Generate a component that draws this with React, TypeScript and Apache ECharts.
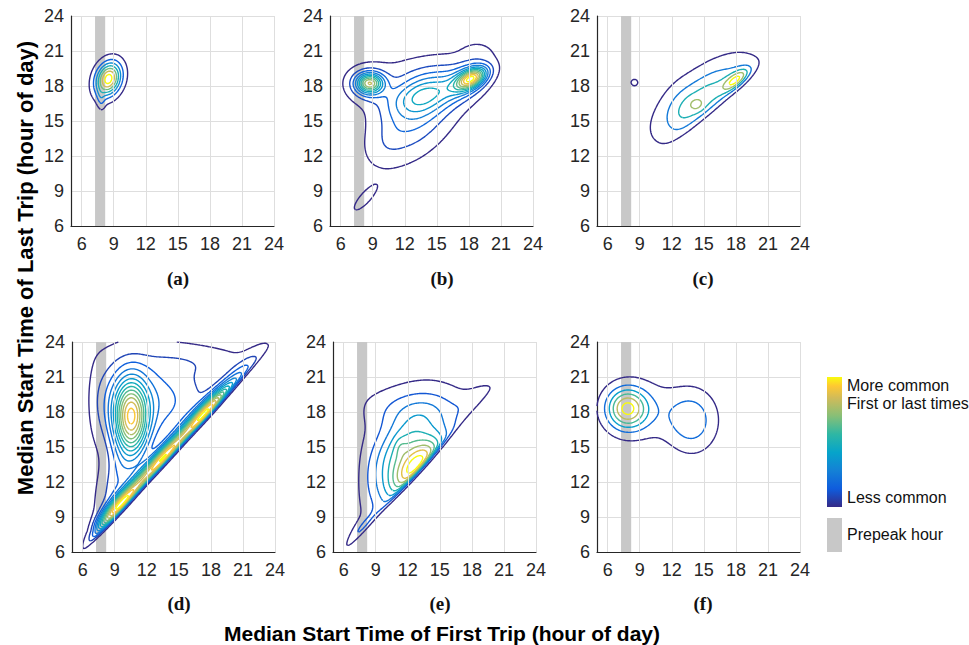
import React, { useEffect, useRef } from "react";
import * as echarts from "echarts";

// ---------- data ----------
const X_TICKS = [6, 9, 12, 15, 18, 21, 24];
const Y_TICKS = [6, 9, 12, 15, 18, 21, 24];
const PANEL_LABELS = ["(a)", "(b)", "(c)", "(d)", "(e)", "(f)"];
const PREPEAK_HOUR = [7.25, 8.2];

// density components of each panel: [centerX, centerY, sdAlong, sdAcross, angleDeg, weight]
const COMP_A = [
  [8.5, 18.6, 1.0, 0.75, 65, 1.0],
  [7.8, 16.8, 0.6, 0.25, 95, 0.15],
];
const COMP_B = [
  [8.7, 18.25, 0.8, 0.55, 0, 0.6],
  [8.7, 18.1, 1.2, 0.9, 0, 0.3],
  [18.3, 18.65, 1.0, 0.5, 25, 0.75],
  [17.8, 18.5, 1.4, 0.85, 30, 0.33],
  [13.8, 17.3, 2.4, 1.1, 15, 0.4],
  [13.0, 15.3, 3.0, 1.7, 40, 0.25],
  [13.0, 19.3, 3.5, 1.0, 5, 0.06],
  [18.8, 21.0, 1.2, 0.7, 0, 0.05],
  [10.5, 13.3, 1.3, 0.9, 60, 0.03],
  [8.3, 8.4, 1.1, 0.35, 45, 0.1],
];
const COMP_C = [
  [15.2, 17.1, 3.0, 1.3, 34, 0.52],
  [14.5, 16.3, 3.5, 1.8, 36, 0.1],
  [12.8, 15.8, 1.5, 1.0, 80, 0.12],
  [18.1, 18.5, 1.0, 0.45, 35, 0.8],
  [14.3, 16.4, 0.5, 0.4, 0, 0.2],
  [8.5, 18.3, 0.4, 0.35, 0, 0.14],
];
const COMP_D = [
  [9.5, 10.0, 2.2, 0.5, 45, 0.9],
  [13.5, 14.0, 2.2, 0.5, 45, 0.9],
  [17.5, 17.9, 2.2, 0.5, 45, 0.9],
  [20.5, 20.9, 2.2, 0.6, 45, 0.15],
  [10.5, 17.5, 2.2, 1.1, 90, 0.75],
  [12.0, 19.0, 4.0, 2.5, 0, 0.22],
  [16.5, 22.3, 4.0, 0.9, 0, 0.05],
  [9.5, 12.0, 3.0, 1.2, 70, 0.15],
];
const COMP_E = [
  [13.0, 13.5, 2.0, 0.8, 45, 0.5],
  [12.0, 14.0, 3.0, 2.0, 60, 0.7],
  [11.3, 15.0, 0.6, 0.4, 90, 0.08],
  [13.0, 18.3, 3.5, 1.2, 0, 0.15],
  [18.5, 19.3, 1.5, 0.6, 30, 0.08],
  [7.6, 7.8, 1.5, 0.5, 45, 0.2],
];
const COMP_F = [
  [7.8, 18.3, 1.25, 1.15, 0, 1.0],
  [8.5, 18.3, 2.0, 1.8, 0, 0.15],
  [13.9, 17.2, 1.7, 1.5, 90, 0.42],
  [11.0, 18.0, 2.5, 1.6, 0, 0.14],
];
// density falls off below a rising line (last trip before first trip): [slope, offset, softness]
const DIAG_CUT = [null, null, [0.8, 3.4, 0.3], [1, 0.0, 0.12], [1, 0.0, 0.15], null];
// density falls off before early morning: [hour, softness, hour at y=6, rise per hour of y]
const LEFT_CUT = [null, null, null, [6.8, 0.35, 5.9, 0.5], [7.3, 0.3, 5.9, 0.45], null];
// contour levels as share of each panel's peak: [lowest, highest, count]
const LEVELS = [
  [0.08, 0.92, 7],
  [0.04, 0.95, 12],
  [0.1, 0.9, 5],
  [0.03, 0.95, 14],
  [0.05, 0.92, 9],
  [0.1, 0.92, 6],
];

// ---------- helpers ----------
const PANELS = [COMP_A, COMP_B, COMP_C, COMP_D, COMP_E, COMP_F];
const X_MIN = 5, X_MAX = 24, Y_MIN = 6, Y_MAX = 24, STEP = 0.1;

const PARULA: [number, string][] = [
  [0, "#352a87"], [0.14, "#0f5cdd"], [0.28, "#1481d6"], [0.42, "#06a4ca"],
  [0.56, "#2eb7a4"], [0.7, "#87bf77"], [0.84, "#d1bb59"], [0.93, "#fec832"], [1, "#f9fb0e"],
];
function hex(c: string) { return [1, 3, 5].map((i) => parseInt(c.slice(i, i + 2), 16)); }
function parula(t: number) {
  for (let k = 1; k < PARULA.length; k++) {
    if (t <= PARULA[k][0]) {
      const [t0, c0] = PARULA[k - 1]; const [t1, c1] = PARULA[k];
      const f = (t - t0) / (t1 - t0); const a = hex(c0), b = hex(c1);
      const m = a.map((v, i) => Math.round(v + (b[i] - v) * f));
      return `rgb(${m[0]},${m[1]},${m[2]})`;
    }
  }
  return PARULA[PARULA.length - 1][1];
}

function density(comps: number[][], diag: number[] | null, left: number[] | null, x: number, y: number) {
  let s = 0;
  for (const [cx, cy, sa, sc, ang, w] of comps) {
    const th = (ang * Math.PI) / 180, dx = x - cx, dy = y - cy;
    const u = dx * Math.cos(th) + dy * Math.sin(th);
    const v = -dx * Math.sin(th) + dy * Math.cos(th);
    s += w * Math.exp(-0.5 * ((u * u) / (sa * sa) + (v * v) / (sc * sc)));
  }
  if (diag) s *= 1 / (1 + Math.exp(-(y - diag[0] * x - diag[1]) / diag[2]));
  if (left) {
    const xb = Math.min(left[0], left[2] + left[3] * (y - 6));
    s *= 1 / (1 + Math.exp(-(x - xb) / left[1]));
  }
  return s;
}

function contourLines(vals: Float64Array, nx: number, ny: number, L: number) {
  const pts = new Map<number, number[]>();
  const segs: number[][] = [];
  const adj = new Map<number, number[]>();
  const ep = (key: number, xa: number, ya: number, va: number, xb: number, yb: number, vb: number) => {
    if (!pts.has(key)) {
      const t = (L - va) / (vb - va);
      pts.set(key, [xa + t * (xb - xa), ya + t * (yb - ya)]);
    }
    return key;
  };
  const add = (p: number, q: number) => {
    const id = segs.length; segs.push([p, q]);
    for (const k of [p, q]) { const l = adj.get(k); if (l) l.push(id); else adj.set(k, [id]); }
  };
  for (let j = 0; j < ny - 1; j++) {
    for (let i = 0; i < nx - 1; i++) {
      const a = vals[j * nx + i], b = vals[j * nx + i + 1], c = vals[(j + 1) * nx + i + 1], d = vals[(j + 1) * nx + i];
      const sa = a >= L, sb = b >= L, sc = c >= L, sd = d >= L;
      if (sa === sb && sb === sc && sc === sd) continue;
      const x0 = X_MIN + i * STEP, x1 = x0 + STEP, y0 = Y_MIN + j * STEP, y1 = y0 + STEP;
      const e: (number | null)[] = [null, null, null, null];
      if (sa !== sb) e[0] = ep(2 * (j * nx + i), x0, y0, a, x1, y0, b);
      if (sb !== sc) e[1] = ep(2 * (j * nx + i + 1) + 1, x1, y0, b, x1, y1, c);
      if (sd !== sc) e[2] = ep(2 * ((j + 1) * nx + i), x0, y1, d, x1, y1, c);
      if (sa !== sd) e[3] = ep(2 * (j * nx + i) + 1, x0, y0, a, x0, y1, d);
      const list = e.filter((v) => v !== null) as number[];
      if (list.length === 2) add(list[0], list[1]);
      else if (list.length === 4) {
        const center = (a + b + c + d) / 4 >= L;
        if (center === sa) { add(e[0]!, e[1]!); add(e[2]!, e[3]!); }
        else { add(e[0]!, e[3]!); add(e[1]!, e[2]!); }
      }
    }
  }
  const used = new Uint8Array(segs.length);
  const extend = (line: number[]) => {
    for (;;) {
      const last = line[line.length - 1];
      const cand = (adj.get(last) || []).find((si) => !used[si]);
      if (cand === undefined) break;
      used[cand] = 1;
      const [p, q] = segs[cand];
      line.push(p === last ? q : p);
    }
  };
  const lines: number[][][] = [];
  for (let s = 0; s < segs.length; s++) {
    if (used[s]) continue;
    used[s] = 1;
    const line = [segs[s][0], segs[s][1]];
    extend(line); line.reverse(); extend(line);
    lines.push(line.map((k) => { const p = pts.get(k)!; return [+p[0].toFixed(3), +p[1].toFixed(3)]; }));
  }
  return lines;
}

function panelContours(p: number) {
  const nx = Math.round((X_MAX - X_MIN) / STEP) + 1, ny = Math.round((Y_MAX - Y_MIN) / STEP) + 1;
  const vals = new Float64Array(nx * ny);
  let max = 0;
  for (let j = 0; j < ny; j++) for (let i = 0; i < nx; i++) {
    const v = density(PANELS[p], DIAG_CUT[p] as any, LEFT_CUT[p] as any, X_MIN + i * STEP, Y_MIN + j * STEP);
    vals[j * nx + i] = v; if (v > max) max = v;
  }
  for (let k = 0; k < vals.length; k++) vals[k] /= max;
  const [lo, hi, n] = LEVELS[p];
  const out: { color: string; line: number[][] }[] = [];
  for (let k = 0; k < n; k++) {
    const L = lo + ((hi - lo) * k) / (n - 1);
    const color = parula(k / (n - 1));
    for (const line of contourLines(vals, nx, ny, L)) out.push({ color, line });
  }
  return out;
}

const GRID_POS = [[71, 16], [330, 16], [597, 16], [72, 342], [333, 342], [597, 342]];
const LABEL_POS = [[178, 278], [442, 278], [703, 278], [179, 603], [440, 603], [703, 603]];
const FONT = "'Liberation Sans', Arial, sans-serif";
const AXIS_COLOR = "#262626";
const GRID_COLOR = "#dedede";

export default function App() {
  const ref = useRef<HTMLDivElement>(null);
  useEffect(() => {
    if (!ref.current) return;
    const chart = echarts.init(ref.current, undefined, { renderer: "svg" });
    const series: any[] = [];
    for (let p = 0; p < 6; p++) {
      series.push({
        type: "line", xAxisIndex: p, yAxisIndex: p, data: [], silent: true, z: 1,
        markLine: {
          silent: true, symbol: ["none", "none"], label: { show: false },
          lineStyle: { color: GRID_COLOR, type: "solid", width: 1 },
          data: X_TICKS.map((v) => ({ xAxis: v })),
        },
      });
      series.push({
        type: "line", xAxisIndex: p, yAxisIndex: p, data: [], silent: true, z: 2,
        markArea: {
          silent: true, itemStyle: { color: "#c8c8c8", opacity: 1 }, label: { show: false },
          data: [[{ xAxis: PREPEAK_HOUR[0] }, { xAxis: PREPEAK_HOUR[1] }]],
        },
      });
      for (const c of panelContours(p)) {
        series.push({
          type: "line", xAxisIndex: p, yAxisIndex: p, data: c.line, silent: true, z: 3,
          showSymbol: false, symbol: "none", smooth: false,
          lineStyle: { color: c.color, width: 1.4 },
        });
      }
    }
    const option: any = {
      animation: false,
      grid: GRID_POS.map(([l, t]) => ({ left: l, top: t, width: 203, height: 210 })),
      xAxis: GRID_POS.map((_, i) => ({
        type: "value", gridIndex: i, min: X_MIN, max: X_MAX, interval: 1,
        axisLine: { show: true, onZero: false, lineStyle: { color: AXIS_COLOR, width: 1.2 } },
        axisTick: { show: false }, splitLine: { show: false },
        axisLabel: {
          color: AXIS_COLOR, fontSize: 18, fontFamily: FONT, margin: 9,
          formatter: (v: number) => (X_TICKS.includes(v) ? String(v) : ""),
        },
      })),
      yAxis: GRID_POS.map((_, i) => ({
        type: "value", gridIndex: i, min: Y_MIN, max: Y_MAX, interval: 3,
        axisLine: { show: true, onZero: false, lineStyle: { color: AXIS_COLOR, width: 1.2 } },
        axisTick: { show: false },
        splitLine: { show: true, lineStyle: { color: GRID_COLOR, width: 1 } },
        axisLabel: {
          color: AXIS_COLOR, fontSize: 18, fontFamily: FONT, margin: 7,
          formatter: (v: number) => (Y_TICKS.includes(v) ? String(v) : ""),
        },
      })),
      series,
      graphic: [
        ...PANEL_LABELS.map((t, i) => ({
          type: "text", x: LABEL_POS[i][0], y: LABEL_POS[i][1],
          style: { text: t, fontSize: 19, fontWeight: "bold", fontFamily: "'Liberation Serif', 'Times New Roman', serif", fill: "#111", align: "center", verticalAlign: "middle" },
        })),
        {
          type: "text", x: 442, y: 633,
          style: { text: "Median Start Time of First Trip (hour of day)", fontSize: 21, fontWeight: "bold", fontFamily: FONT, fill: "#000", align: "center", verticalAlign: "middle" },
        },
        {
          type: "text", x: 25, y: 268, rotation: Math.PI / 2,
          style: { text: "Median Start Time of Last Trip (hour of day)", fontSize: 22, fontWeight: "bold", fontFamily: FONT, fill: "#000", align: "center", verticalAlign: "middle" },
        },
        {
          type: "rect", shape: { x: 827, y: 377, width: 15, height: 130 },
          style: {
            fill: {
              type: "linear", x: 0, y: 0, x2: 0, y2: 1,
              colorStops: PARULA.map(([o, c]) => ({ offset: 1 - o, color: c })).reverse(),
            },
          },
        },
        { type: "rect", shape: { x: 827, y: 518, width: 15, height: 34 }, style: { fill: "#c8c8c8" } },
        ...[["More common", 385], ["First or last times", 403], ["Less common", 497], ["Prepeak hour", 534]].map(([t, y]) => ({
          type: "text", x: 847, y: y as number,
          style: { text: t as string, fontSize: 16, fontFamily: FONT, fill: "#111", align: "left", verticalAlign: "middle" },
        })),
      ],
    };
    chart.setOption(option);
    return () => chart.dispose();
  }, []);
  return <div ref={ref} style={{ position: "fixed", left: 0, top: 0, width: 969, height: 645, background: "#fff" }} />;
}
